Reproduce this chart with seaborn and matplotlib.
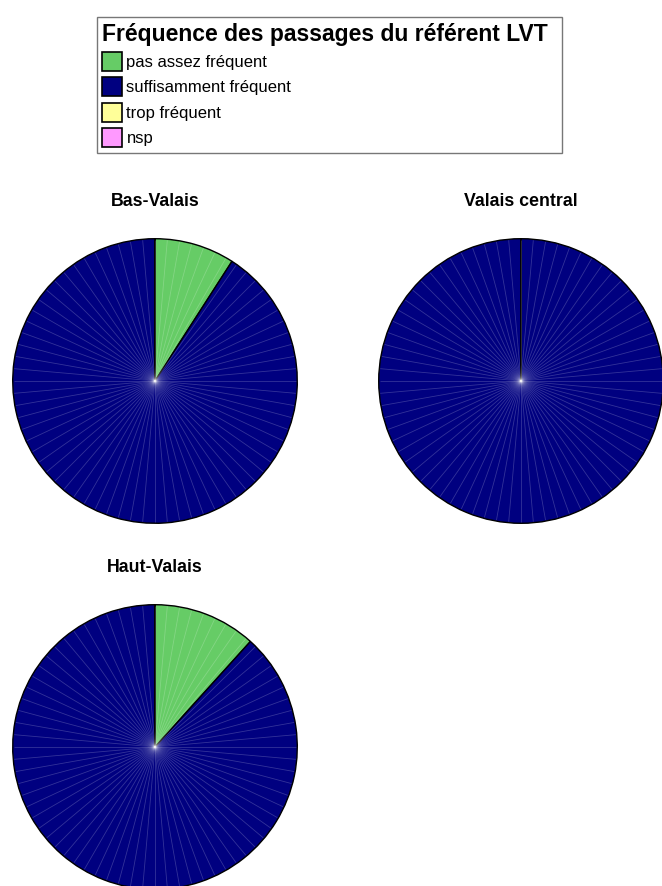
import numpy as np
import matplotlib
matplotlib.use("Agg")
import matplotlib.pyplot as plt
from matplotlib.patches import Patch
import seaborn as sns

sns.set_theme(style="white")
plt.rcParams["font.family"] = ["Liberation Sans", "DejaVu Sans"]

# Survey answers, share of respondents (%) per region
regions = ["Bas-Valais", "Valais central", "Haut-Valais"]
categories = ["pas assez fréquent", "suffisamment fréquent", "trop fréquent", "nsp"]
pas_assez = [9.1, 0.0, 11.7]
suffisamment = [90.9, 100.0, 88.3]
trop = [0.0, 0.0, 0.0]
nsp = [0.0, 0.0, 0.0]
colors = ["#66CC66", "#000080", "#FFFF99", "#FF99FF"]
legend_title = "Fréquence des passages du référent LVT"

W, H = 662, 886
fig = plt.figure(figsize=(W / 100, H / 100), dpi=100)

R = 143  # pie radius in pixels
centers = {"Bas-Valais": (155, 381), "Valais central": (521, 381), "Haut-Valais": (155, 747)}
title_offset = 180


def draw_pie(name, values):
    cx, cy = centers[name]
    ax = fig.add_axes([(cx - R) / W, 1 - (cy + R) / H, 2 * R / W, 2 * R / H])
    ax.pie(values, colors=colors, startangle=90, counterclock=False, radius=1,
           wedgeprops=dict(edgecolor="black", linewidth=1.0))
    # fine radial shading strokes across the disc
    ang = np.deg2rad(90 - np.arange(0, 360, 5))
    for a in ang:
        c, s = np.cos(a), np.sin(a)
        ax.plot([0.0, 0.993 * c], [0.0, 0.993 * s], color="white",
                alpha=0.2, lw=0.6, solid_capstyle="butt", zorder=3)
    ax.set_xlim(-1.005, 1.005)
    ax.set_ylim(-1.005, 1.005)
    ax.set_aspect("equal")
    ax.axis("off")
    fig.text(cx / W, 1 - (cy - title_offset) / H, name, ha="center", va="center",
             fontsize=12.8, fontweight="bold", color="black")


for i, name in enumerate(regions):
    draw_pie(name, [pas_assez[i], suffisamment[i], trop[i], nsp[i]])

handles = [Patch(facecolor=c, edgecolor="black", linewidth=1.2) for c in colors]
x0, x1, y0 = 96.5 / W, 562 / W, 1 - 17 / H
leg = fig.legend(handles, categories, title=legend_title, loc="upper left",
                 bbox_to_anchor=(x0, y0 - 0.1, x1 - x0, 0.1), mode="expand",
                 borderaxespad=0, frameon=True, fancybox=False, edgecolor="#555555",
                 fontsize=12, labelcolor="black",
                 title_fontproperties=dict(weight="bold", size=16.5),
                 alignment="left", handlelength=1.15, handleheight=1.37,
                 handletextpad=0.3, labelspacing=0.38, borderpad=0.35)
leg.get_title().set_color("black")
leg.get_frame().set_linewidth(1.0)

fig.savefig("out.png", dpi=100, facecolor="white")
